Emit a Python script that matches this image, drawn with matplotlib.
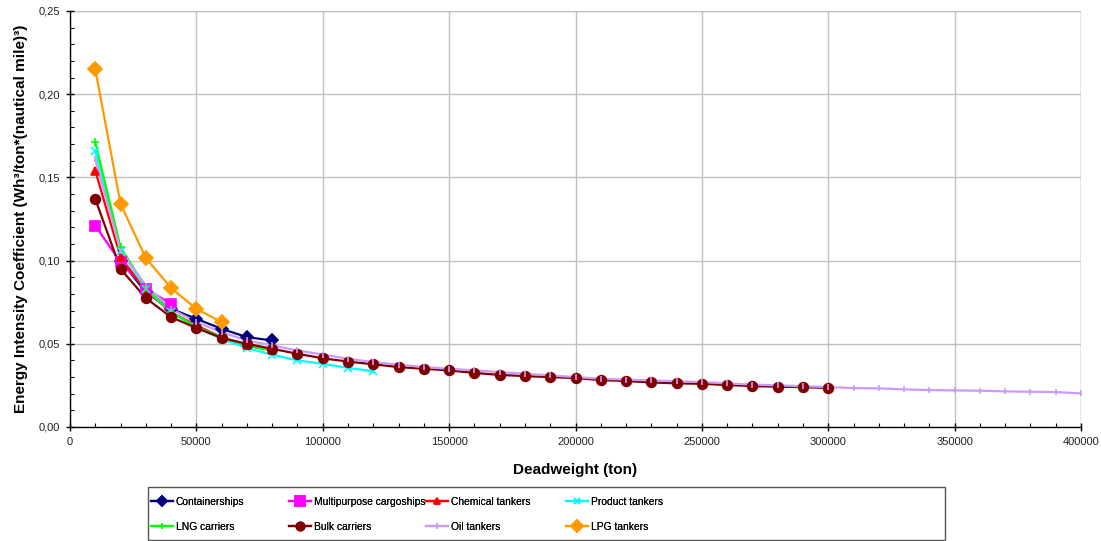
import matplotlib
matplotlib.use("Agg")
import matplotlib.pyplot as plt
from matplotlib.ticker import MultipleLocator, FuncFormatter
from matplotlib.lines import Line2D
from matplotlib.patches import Rectangle

plt.rcParams["font.family"] = ["Liberation Sans", "DejaVu Sans"]

# Deadweight (ton) for each ship class
dwt_containers = [20000, 30000, 40000, 50000, 60000, 70000, 80000]
dwt_multipurpose = [10000, 20000, 30000, 40000]
dwt_chemical = [10000, 20000, 30000, 40000, 50000, 60000, 70000, 80000]
dwt_product = [10000, 20000, 30000, 40000, 50000, 60000, 70000, 80000,
               90000, 100000, 110000, 120000]
dwt_lng = [10000, 20000, 30000, 40000, 50000, 60000, 70000, 80000]
dwt_bulk = [10000 * k for k in range(1, 31)]
dwt_oil = [10000 * k for k in range(1, 41)]
dwt_lpg = [10000, 20000, 30000, 40000, 50000, 60000]

# Energy intensity coefficient, Wh^3 / (ton * nautical mile^3)
eic_containers = [0.100, 0.081, 0.071, 0.065, 0.059, 0.054, 0.052]
eic_multipurpose = [0.121, 0.099, 0.083, 0.074]
eic_chemical = [0.154, 0.102, 0.082, 0.069, 0.061, 0.054, 0.049, 0.046]
eic_product = [0.166, 0.106, 0.083, 0.069, 0.060, 0.053, 0.0475, 0.0435,
               0.040, 0.038, 0.0355, 0.0335]
eic_lng = [0.171, 0.108, 0.084, 0.069, 0.060, 0.054, 0.049, 0.046]
eic_bulk = [0.137, 0.095, 0.0775, 0.066, 0.0595, 0.0535, 0.050, 0.047,
            0.044, 0.0413, 0.0393, 0.0377, 0.036, 0.035, 0.034, 0.0325,
            0.0313, 0.0306, 0.030, 0.0294, 0.0282, 0.0276, 0.0268, 0.0262,
            0.026, 0.0252, 0.0246, 0.0242, 0.024, 0.0234]
eic_oil = [0.161, 0.106, 0.085, 0.071, 0.063, 0.057, 0.052, 0.049,
           0.046, 0.0435, 0.041, 0.039, 0.0375, 0.036, 0.035, 0.034,
           0.033, 0.032, 0.031, 0.030, 0.029, 0.0285, 0.028, 0.0275,
           0.027, 0.0262, 0.0255, 0.025, 0.0245, 0.024, 0.0234, 0.0232,
           0.0226, 0.0222, 0.022, 0.0218, 0.0214, 0.0212, 0.021, 0.0202]
eic_lpg = [0.215, 0.134, 0.1016, 0.0835, 0.071, 0.063]

series = [
    ("Containerships", dwt_containers, eic_containers, "#000080", "D", 6),
    ("Multipurpose cargoships", dwt_multipurpose, eic_multipurpose, "#ff00ff", "s", 7.5),
    ("Chemical tankers", dwt_chemical, eic_chemical, "#ff0000", "^", 6),
    ("Product tankers", dwt_product, eic_product, "#00ffff", "x", 6),
    ("LNG carriers", dwt_lng, eic_lng, "#00ff00", "+", 6),
    ("Bulk carriers", dwt_bulk, eic_bulk, "#800000", "o", 7),
    ("Oil tankers", dwt_oil, eic_oil, "#cc99ff", "|", 5),
    ("LPG tankers", dwt_lpg, eic_lpg, "#ff9900", "D", 7),
]

fig = plt.figure(figsize=(11.01, 5.41), dpi=100)
ax = fig.add_axes([70 / 1101, 1 - 427 / 541, 1011 / 1101, 416 / 541])

handles = {}
for i, (name, x, y, col, mk, ms) in enumerate(series):
    ax.plot(x, y, color=col, lw=1.6, zorder=2 + i * 0.01)
    ax.plot(x, y, ls="none", marker=mk, ms=ms, color=col,
            markeredgewidth=1.2, zorder=3 + i * 0.01)
    handles[name] = Line2D([], [], color=col, lw=1.6, marker=mk, ms=ms - 1,
                           markeredgewidth=1.2)

ax.set_xlim(0, 400000)
ax.set_ylim(0, 0.25)
ax.xaxis.set_major_locator(MultipleLocator(50000))
ax.xaxis.set_minor_locator(MultipleLocator(10000))
ax.yaxis.set_major_locator(MultipleLocator(0.05))
ax.yaxis.set_minor_locator(MultipleLocator(0.01))
ax.yaxis.set_major_formatter(FuncFormatter(lambda v, p: f"{v:.2f}".replace(".", ",")))
ax.xaxis.set_major_formatter(FuncFormatter(lambda v, p: f"{int(round(v))}"))

ax.grid(True, which="major", color="#c0c0c0", lw=1.0, zorder=0)
ax.set_axisbelow(True)
for s in ("top", "right"):
    ax.spines[s].set_visible(False)
for s in ("left", "bottom"):
    ax.spines[s].set_color("#000000")
    ax.spines[s].set_linewidth(1.0)
# top and right frame drawn as grid-coloured lines
ax.axhline(0.25, color="#c0c0c0", lw=1.0, zorder=0)
ax.axvline(400000, color="#c0c0c0", lw=1.0, zorder=0)

ax.tick_params(which="major", direction="inout", length=6, width=1, colors="#000000",
               labelsize=8, labelcolor="#222222", pad=4)
ax.tick_params(which="minor", direction="in", length=3, width=0.8, colors="#000000")

ax.set_xlabel("Deadweight (ton)", fontsize=11, fontweight="bold", labelpad=12)
ax.set_ylabel("Energy Intensity Coefficient (Wh³/ton*(nautical mile)³)",
              fontsize=11, fontweight="bold", labelpad=8)

# legend: framed box with four manually placed columns
fig.add_artist(Rectangle((148 / 1101, 1 - 540 / 541), (945 - 148) / 1101, 53 / 541,
                         transform=fig.transFigure, facecolor="white",
                         edgecolor="#555555", lw=1.0))
columns = [
    (151, ["Containerships", "LNG carriers"]),
    (289, ["Multipurpose cargoships", "Bulk carriers"]),
    (426, ["Chemical tankers", "Oil tankers"]),
    (566, ["Product tankers", "LPG tankers"]),
]
for xpx, names in columns:
    leg = fig.legend([handles[n] for n in names], names, loc="upper left",
                     bbox_to_anchor=(xpx / 1101, 1 - 497 / 541),
                     frameon=False, fontsize=7.4, handlelength=2.1,
                     handletextpad=0.3, labelspacing=1.45, borderpad=0,
                     borderaxespad=0)
    fig.add_artist(leg)

fig.savefig("out.png", dpi=100)
